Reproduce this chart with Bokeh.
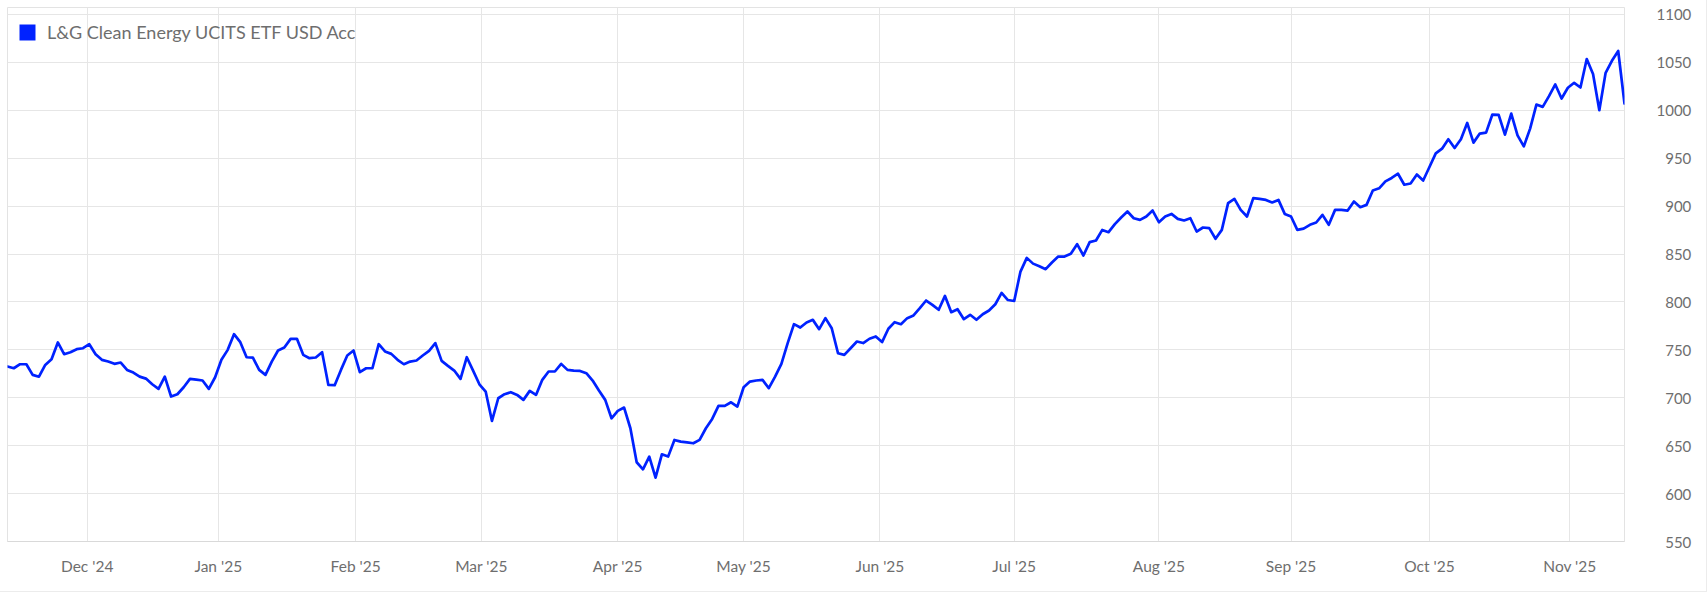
import numpy as np
import pandas as pd
from bokeh.plotting import figure
from bokeh.models import (FixedTicker, Range1d, Legend, LegendItem, ColumnDataSource,
                          LinearAxis, CustomJSTickFormatter)
from bokeh.embed import file_html
from bokeh.resources import INLINE

# ---------------- data ----------------
series_name = "L&G Clean Energy UCITS ETF USD Acc"
start_date = "2024-11-13"
end_date = "2025-11-13"
holidays = ["2024-12-25", "2025-01-01", "2025-04-18", "2025-04-21"]

values = [
    732.6, 730.8, 735.0, 735.0, 723.9, 722.0, 734.3, 740.2, 757.7, 745.5,
    747.6, 750.7, 751.7, 755.9, 745.5, 739.6, 737.8, 735.4, 736.8, 729.1,
    726.3, 722.1, 720.0, 714.1, 709.3, 722.1, 701.3, 703.7, 711.0, 719.7,
    719.0, 718.0, 709.3, 721.4, 739.6, 750.0, 766.4, 758.0, 742.3, 742.0,
    729.1, 723.9, 737.8, 749.3, 752.4, 761.5, 761.5, 744.8, 741.3, 742.0,
    747.6, 713.4, 713.1, 729.1, 744.1, 749.3, 726.7, 730.8, 730.8, 755.9,
    748.3, 745.8, 739.6, 735.0, 737.8, 738.9, 744.1, 749.0, 757.0, 738.5,
    733.3, 728.4, 719.7, 742.3, 728.4, 714.1, 706.5, 675.8, 699.5, 703.7,
    705.8, 703.0, 697.8, 707.2, 703.0, 718.7, 727.4, 727.4, 735.4, 729.1,
    728.4, 728.0, 725.6, 718.0, 707.5, 697.8, 678.6, 686.3, 689.8, 668.2,
    632.7, 625.3, 638.6, 616.6, 641.0, 638.6, 656.0, 654.2, 653.5, 652.5,
    656.0, 668.2, 677.9, 691.5, 691.5, 695.3, 690.8, 711.0, 716.9, 718.0,
    718.7, 710.0, 722.1, 735.4, 757.0, 776.8, 773.3, 778.6, 781.3, 771.6,
    783.1, 772.6, 746.5, 744.8, 751.7, 758.7, 757.1, 761.6, 764.0, 758.1,
    772.0, 778.9, 776.8, 783.1, 785.9, 793.5, 801.5, 797.0, 791.8, 806.3,
    789.3, 792.4, 782.0, 786.6, 781.4, 787.2, 791.1, 797.6, 809.5, 802.0,
    801.0, 831.7, 846.0, 840.0, 837.2, 834.2, 841.2, 847.4, 847.4, 850.2,
    860.3, 848.5, 862.4, 864.1, 875.2, 872.8, 881.2, 888.1, 894.4, 887.4,
    885.7, 889.2, 895.4, 883.2, 889.2, 891.9, 886.7, 885.0, 887.4, 873.5,
    877.7, 877.0, 865.9, 875.2, 903.1, 907.6, 896.1, 889.2, 908.3, 907.6,
    906.5, 903.8, 906.5, 891.9, 889.2, 875.2, 876.6, 880.5, 882.9, 890.9,
    880.5, 896.1, 896.1, 895.4, 904.8, 898.9, 901.3, 916.3, 918.6, 925.8,
    929.4, 933.8, 922.3, 923.6, 933.0, 926.8, 940.8, 955.0, 960.0, 969.8,
    960.7, 969.8, 986.8, 966.3, 975.7, 976.7, 995.6, 995.2, 974.6, 996.6,
    973.9, 962.4, 980.9, 1006.0, 1003.6, 1014.8, 1027.0, 1012.3, 1023.5, 1028.7,
    1023.8, 1053.5, 1037.8, 1000.1, 1039.2, 1051.7, 1061.9, 1007.1,
]

y_ticks = [550, 600, 650, 700, 750, 800, 850, 900, 950, 1000, 1050, 1100]
month_starts = ["2024-12-01", "2025-01-01", "2025-02-01", "2025-03-01",
                "2025-04-01", "2025-05-01", "2025-06-01", "2025-07-01",
                "2025-08-01", "2025-09-01", "2025-10-01", "2025-11-01"]

# ---------------- derived ----------------
dates = pd.bdate_range(start_date, end_date, freq="C", holidays=holidays)
n = min(len(dates), len(values))
idx = np.arange(n)
t = dates[:n].asi8.astype(float)
month_ts = pd.to_datetime(month_starts)
month_pos = [round(float(np.interp(float(m.value), t, idx)), 3) for m in month_ts]
month_labels = [m.strftime("%b '%y") for m in month_ts]

src = ColumnDataSource(dict(x=idx, y=values[:n], date=dates[:n]))

BLUE = "#0022FF"
GRID = "#e6e6e6"
LABEL = "#6e6e6e"
FONT = "Lato"

p = figure(frame_width=1617, frame_height=534,
           output_backend="svg", toolbar_location=None,
           x_range=Range1d(0, n - 1), y_range=Range1d(550, 1107.3),
           y_axis_location=None,
           min_border_left=7, min_border_top=7,
           min_border_right=82, min_border_bottom=50,
           background_fill_color="white", border_fill_color="white")
p.styles = {"border-bottom": "1px solid #ececec", "border-right": "1px solid #ececec"}

p.line("x", "y", source=src, line_color=BLUE, line_width=2.7,
       line_join="round", line_cap="round")

# x axis (months)
xaxis = p.xaxis[0]
xaxis.ticker = FixedTicker(ticks=month_pos)
xaxis.major_label_overrides = {pos: lab for pos, lab in zip(month_pos, month_labels)}
xaxis.major_tick_out = 0
xaxis.major_tick_in = 0
xaxis.minor_tick_out = 0
xaxis.minor_tick_in = 0
xaxis.axis_line_color = "#d9d9d9"
xaxis.major_label_standoff = 15
xaxis.major_label_text_font = FONT
xaxis.major_label_text_font_size = "15.5px"
xaxis.major_label_text_color = LABEL

# y axis on the right; 3-digit values padded with a figure space so the
# labels line up on the right like the reference
ytick = FixedTicker(ticks=y_ticks)
yaxis = LinearAxis(ticker=ytick,
                   formatter=CustomJSTickFormatter(code="""
                       const s = tick.toFixed(0);
                       return (s.length < 4 ? "\\u2007" : "") + s;
                   """),
                   major_tick_out=0, major_tick_in=0,
                   minor_tick_out=0, minor_tick_in=0,
                   axis_line_color=None,
                   major_label_standoff=32,
                   major_label_text_font=FONT,
                   major_label_text_font_size="15px",
                   major_label_text_color=LABEL)
p.add_layout(yaxis, "right")
p.ygrid.ticker = ytick

p.xgrid.grid_line_color = GRID
p.ygrid.grid_line_color = GRID
p.xgrid.grid_line_width = 1
p.ygrid.grid_line_width = 1
p.outline_line_color = "#e3e3e3"
p.outline_line_width = 1

# legend with a square swatch
sq = p.scatter(x=idx[:1], y=values[:1], marker="square", size=0,
               fill_color=BLUE, line_color=BLUE, line_alpha=0, fill_alpha=1)
legend = Legend(items=[LegendItem(label=series_name, renderers=[sq])],
                location="top_left", margin=0, padding=0,
                glyph_width=40, glyph_height=50, label_standoff=0,
                background_fill_alpha=0, border_line_alpha=0,
                label_text_font=FONT, label_text_font_size="18px",
                label_text_color=LABEL)
p.add_layout(legend)

open("out.html", "w").write(file_html(p, INLINE))
